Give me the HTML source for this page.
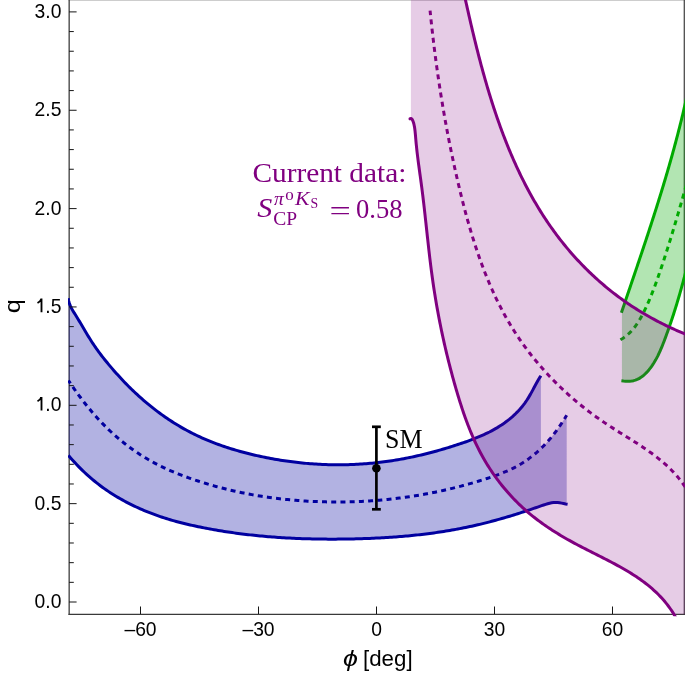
<!DOCTYPE html>
<html><head><meta charset="utf-8">
<style>
html,body{margin:0;padding:0;background:#fff;}
body{width:685px;height:673px;overflow:hidden;position:relative;}
svg{position:absolute;left:0;top:0;}
.t{font-family:"Liberation Sans",sans-serif;font-size:20px;fill:#000;}
.s{font-family:"Liberation Serif",serif;fill:#800080;}
</style></head><body>
<svg width="685" height="673" viewBox="0 0 685 673" style="will-change:transform">
<defs><clipPath id="pc"><rect x="68.4" y="0" width="616.6" height="614.3"/></clipPath><clipPath id="lc"><rect x="68" y="0" width="617" height="616.3"/></clipPath></defs>
<!-- frame -->
<g fill="none" stroke="#3a3a3a">
 <line x1="69.16" y1="-1" x2="69.16" y2="614.9" stroke-width="1.28"/>
 <line x1="68.5" y1="614.3" x2="686" y2="614.3" stroke-width="1.2"/>
 <line x1="684.27" y1="-1" x2="684.27" y2="614.9" stroke-width="1.18"/>
 <line x1="68.5" y1="-0.25" x2="686" y2="-0.25" stroke-width="1.2"/>
</g>

<g>
 <path clip-path="url(#pc)" d="M68.18,298.31 L68.51,300.31 L68.99,302.24 L69.62,304.11 L70.37,305.93 L71.23,307.71 L72.16,309.45 L73.16,311.16 L74.20,312.86 L75.26,314.55 L76.32,316.25 L77.37,317.95 L78.41,319.66 L79.44,321.38 L80.47,323.10 L81.49,324.83 L82.51,326.55 L83.53,328.28 L84.55,330.01 L85.57,331.73 L86.60,333.45 L87.63,335.17 L88.67,336.88 L89.73,338.58 L90.79,340.27 L91.87,341.95 L92.97,343.62 L94.08,345.28 L95.21,346.93 L96.36,348.56 L97.52,350.18 L98.70,351.80 L99.89,353.40 L101.09,354.99 L102.31,356.57 L103.54,358.14 L104.78,359.70 L106.04,361.26 L107.30,362.80 L108.57,364.34 L109.85,365.86 L111.15,367.38 L112.44,368.90 L113.75,370.40 L115.07,371.90 L116.39,373.39 L117.72,374.87 L119.06,376.35 L120.41,377.82 L121.77,379.27 L123.14,380.72 L124.51,382.17 L125.90,383.60 L127.29,385.02 L128.70,386.44 L130.11,387.84 L131.53,389.24 L132.97,390.62 L134.41,392.00 L135.86,393.37 L137.33,394.72 L138.80,396.07 L140.29,397.40 L141.78,398.73 L143.28,400.04 L144.80,401.35 L146.32,402.64 L147.86,403.92 L149.40,405.19 L150.95,406.44 L152.52,407.69 L154.09,408.92 L155.67,410.14 L157.27,411.35 L158.87,412.54 L160.48,413.73 L162.10,414.90 L163.73,416.05 L165.37,417.19 L167.02,418.32 L168.67,419.44 L170.34,420.54 L172.01,421.63 L173.70,422.70 L175.39,423.76 L177.09,424.80 L178.80,425.83 L180.52,426.84 L182.25,427.84 L183.99,428.82 L185.73,429.79 L187.49,430.74 L189.25,431.68 L191.02,432.60 L192.80,433.50 L194.58,434.39 L196.38,435.26 L198.18,436.11 L199.99,436.95 L201.81,437.77 L203.64,438.58 L205.47,439.37 L207.31,440.15 L209.15,440.91 L211.00,441.66 L212.86,442.39 L214.73,443.11 L216.60,443.81 L218.47,444.50 L220.35,445.18 L222.24,445.84 L224.13,446.49 L226.03,447.12 L227.93,447.75 L229.84,448.36 L231.75,448.95 L233.67,449.54 L235.59,450.11 L237.51,450.67 L239.44,451.21 L241.37,451.75 L243.31,452.27 L245.24,452.78 L247.18,453.28 L249.13,453.77 L251.07,454.25 L253.02,454.71 L254.97,455.17 L256.93,455.61 L258.88,456.05 L260.84,456.47 L262.80,456.89 L264.76,457.29 L266.72,457.69 L268.68,458.07 L270.65,458.44 L272.61,458.81 L274.58,459.16 L276.55,459.50 L278.52,459.83 L280.49,460.15 L282.46,460.47 L284.44,460.77 L286.41,461.06 L288.39,461.34 L290.37,461.60 L292.35,461.86 L294.33,462.11 L296.31,462.35 L298.29,462.57 L300.27,462.79 L302.26,462.99 L304.24,463.19 L306.23,463.37 L308.22,463.54 L310.21,463.70 L312.20,463.85 L314.19,463.99 L316.18,464.12 L318.17,464.24 L320.16,464.34 L322.16,464.44 L324.15,464.52 L326.15,464.60 L328.14,464.66 L330.14,464.71 L332.14,464.75 L334.14,464.77 L336.13,464.79 L338.13,464.80 L340.13,464.79 L342.13,464.77 L344.13,464.74 L346.13,464.70 L348.13,464.65 L350.14,464.59 L352.14,464.51 L354.14,464.43 L356.14,464.33 L358.14,464.22 L360.14,464.10 L362.14,463.97 L364.13,463.83 L366.13,463.67 L368.13,463.51 L370.12,463.33 L372.12,463.15 L374.11,462.95 L376.10,462.74 L378.09,462.52 L380.08,462.29 L382.06,462.04 L384.05,461.79 L386.03,461.52 L388.01,461.25 L389.99,460.96 L391.96,460.66 L393.94,460.36 L395.91,460.04 L397.87,459.71 L399.84,459.36 L401.80,459.01 L403.77,458.65 L405.72,458.28 L407.68,457.89 L409.63,457.50 L411.59,457.10 L413.54,456.68 L415.48,456.26 L417.43,455.82 L419.37,455.38 L421.31,454.93 L423.25,454.46 L425.19,453.99 L427.12,453.51 L429.05,453.01 L430.98,452.51 L432.91,452.00 L434.84,451.48 L436.76,450.95 L438.69,450.41 L440.61,449.87 L442.53,449.31 L444.44,448.74 L446.36,448.17 L448.27,447.59 L450.18,447.00 L452.09,446.40 L454.00,445.79 L455.90,445.17 L457.81,444.55 L459.71,443.91 L461.61,443.27 L463.51,442.62 L465.41,441.96 L467.30,441.29 L469.18,440.61 L471.06,439.91 L472.94,439.20 L474.81,438.47 L476.67,437.73 L478.52,436.97 L480.36,436.19 L482.19,435.39 L484.02,434.57 L485.82,433.73 L487.62,432.86 L489.41,431.98 L491.18,431.06 L492.93,430.12 L494.67,429.16 L496.40,428.17 L498.11,427.14 L499.79,426.09 L501.47,425.01 L503.12,423.89 L504.75,422.75 L506.36,421.57 L507.95,420.35 L509.51,419.11 L511.04,417.83 L512.55,416.52 L514.03,415.18 L515.48,413.81 L516.90,412.40 L518.29,410.97 L519.64,409.50 L520.95,407.99 L522.23,406.46 L523.47,404.90 L524.67,403.30 L525.83,401.67 L526.95,400.01 L528.02,398.33 L529.07,396.61 L530.08,394.88 L531.07,393.13 L532.04,391.37 L533.00,389.60 L533.95,387.83 L534.90,386.06 L535.85,384.29 L536.82,382.54 L537.80,380.80 L538.80,379.07 L539.84,377.37 L540.90,375.70 L540.90,375.70 L540.90,448.54 L540.79,448.64 L538.80,450.51 L536.81,452.29 L534.82,453.99 L532.82,455.62 L530.83,457.17 L528.84,458.66 L526.84,460.07 L524.85,461.42 L522.86,462.71 L520.87,463.94 L518.87,465.11 L516.88,466.23 L514.89,467.29 L512.89,468.31 L510.90,469.29 L508.91,470.22 L506.92,471.11 L504.92,471.96 L502.93,472.79 L500.94,473.58 L498.94,474.34 L496.95,475.07 L494.96,475.79 L492.97,476.48 L490.97,477.16 L488.98,477.82 L486.99,478.47 L485.00,479.12 L483.00,479.75 L481.01,480.37 L479.02,480.99 L477.02,481.59 L475.03,482.19 L473.04,482.77 L471.05,483.35 L469.05,483.91 L467.06,484.47 L465.07,485.02 L463.07,485.56 L461.08,486.09 L459.09,486.61 L457.10,487.12 L455.10,487.63 L453.11,488.12 L451.12,488.60 L449.12,489.08 L447.13,489.55 L445.14,490.00 L443.15,490.45 L441.15,490.89 L439.16,491.32 L437.17,491.74 L435.18,492.16 L433.18,492.56 L431.19,492.96 L429.20,493.34 L427.20,493.72 L425.21,494.09 L423.22,494.45 L421.23,494.80 L419.23,495.14 L417.24,495.48 L415.25,495.80 L413.25,496.12 L411.26,496.42 L409.27,496.72 L407.28,497.01 L405.28,497.30 L403.29,497.57 L401.30,497.84 L399.30,498.09 L397.31,498.34 L395.32,498.58 L393.33,498.81 L391.33,499.03 L389.34,499.25 L387.35,499.46 L385.36,499.65 L383.36,499.84 L381.37,500.02 L379.38,500.20 L377.38,500.36 L375.39,500.52 L373.40,500.67 L371.41,500.81 L369.41,500.94 L367.42,501.07 L365.43,501.18 L363.43,501.29 L361.44,501.39 L359.45,501.48 L357.46,501.57 L355.46,501.64 L353.47,501.71 L351.48,501.77 L349.48,501.82 L347.49,501.87 L345.50,501.90 L343.51,501.93 L341.51,501.95 L339.52,501.97 L337.53,501.97 L335.54,501.97 L333.54,501.96 L331.55,501.94 L329.56,501.92 L327.56,501.89 L325.57,501.85 L323.58,501.80 L321.59,501.74 L319.59,501.68 L317.60,501.61 L315.61,501.53 L313.61,501.44 L311.62,501.35 L309.63,501.25 L307.64,501.14 L305.64,501.02 L303.65,500.90 L301.66,500.76 L299.66,500.62 L297.67,500.47 L295.68,500.32 L293.69,500.15 L291.69,499.98 L289.70,499.79 L287.71,499.60 L285.72,499.40 L283.72,499.19 L281.73,498.97 L279.74,498.75 L277.74,498.51 L275.75,498.27 L273.76,498.02 L271.77,497.75 L269.77,497.48 L267.78,497.20 L265.79,496.91 L263.79,496.61 L261.80,496.30 L259.81,495.98 L257.82,495.66 L255.82,495.32 L253.83,494.97 L251.84,494.61 L249.84,494.25 L247.85,493.87 L245.86,493.48 L243.87,493.09 L241.87,492.68 L239.88,492.26 L237.89,491.83 L235.90,491.40 L233.90,490.95 L231.91,490.49 L229.92,490.02 L227.92,489.54 L225.93,489.05 L223.94,488.55 L221.95,488.04 L219.95,487.51 L217.96,486.98 L215.97,486.43 L213.97,485.88 L211.98,485.31 L209.99,484.73 L208.00,484.14 L206.00,483.54 L204.01,482.93 L202.02,482.30 L200.02,481.67 L198.03,481.02 L196.04,480.36 L194.05,479.69 L192.05,479.01 L190.06,478.31 L188.07,477.60 L186.08,476.88 L184.08,476.15 L182.09,475.40 L180.10,474.63 L178.10,473.85 L176.11,473.04 L174.12,472.22 L172.13,471.39 L170.13,470.53 L168.14,469.65 L166.15,468.74 L164.15,467.82 L162.16,466.87 L160.17,465.90 L158.18,464.90 L156.18,463.88 L154.19,462.83 L152.20,461.75 L150.20,460.64 L148.21,459.50 L146.22,458.34 L144.23,457.14 L142.23,455.91 L140.24,454.65 L138.25,453.36 L136.26,452.03 L134.26,450.66 L132.27,449.26 L130.28,447.82 L128.28,446.35 L126.29,444.84 L124.30,443.28 L122.31,441.69 L120.31,440.06 L118.32,438.38 L116.33,436.66 L114.33,434.90 L112.34,433.10 L110.35,431.25 L108.36,429.35 L106.36,427.41 L104.37,425.42 L102.38,423.38 L100.38,421.29 L98.39,419.15 L96.40,416.96 L94.41,414.72 L92.41,412.43 L90.42,410.08 L88.43,407.68 L86.44,405.22 L84.44,402.71 L82.45,400.14 L80.46,397.51 L78.46,394.83 L76.47,392.08 L74.48,389.28 L72.49,386.42 L70.49,383.49 L68.50,380.50 Z" fill="rgb(0,0,160)" fill-opacity="0.3"/>
 <path clip-path="url(#pc)" d="M68.50,380.50 L70.49,383.49 L72.49,386.42 L74.48,389.28 L76.47,392.08 L78.46,394.83 L80.46,397.51 L82.45,400.14 L84.44,402.71 L86.44,405.22 L88.43,407.68 L90.42,410.08 L92.41,412.43 L94.41,414.72 L96.40,416.96 L98.39,419.15 L100.38,421.29 L102.38,423.38 L104.37,425.42 L106.36,427.41 L108.36,429.35 L110.35,431.25 L112.34,433.10 L114.33,434.90 L116.33,436.66 L118.32,438.38 L120.31,440.06 L122.31,441.69 L124.30,443.28 L126.29,444.84 L128.28,446.35 L130.28,447.82 L132.27,449.26 L134.26,450.66 L136.26,452.03 L138.25,453.36 L140.24,454.65 L142.23,455.91 L144.23,457.14 L146.22,458.34 L148.21,459.50 L150.20,460.64 L152.20,461.75 L154.19,462.83 L156.18,463.88 L158.18,464.90 L160.17,465.90 L162.16,466.87 L164.15,467.82 L166.15,468.74 L168.14,469.65 L170.13,470.53 L172.13,471.39 L174.12,472.22 L176.11,473.04 L178.10,473.85 L180.10,474.63 L182.09,475.40 L184.08,476.15 L186.08,476.88 L188.07,477.60 L190.06,478.31 L192.05,479.01 L194.05,479.69 L196.04,480.36 L198.03,481.02 L200.02,481.67 L202.02,482.30 L204.01,482.93 L206.00,483.54 L208.00,484.14 L209.99,484.73 L211.98,485.31 L213.97,485.88 L215.97,486.43 L217.96,486.98 L219.95,487.51 L221.95,488.04 L223.94,488.55 L225.93,489.05 L227.92,489.54 L229.92,490.02 L231.91,490.49 L233.90,490.95 L235.90,491.40 L237.89,491.83 L239.88,492.26 L241.87,492.68 L243.87,493.09 L245.86,493.48 L247.85,493.87 L249.84,494.25 L251.84,494.61 L253.83,494.97 L255.82,495.32 L257.82,495.66 L259.81,495.98 L261.80,496.30 L263.79,496.61 L265.79,496.91 L267.78,497.20 L269.77,497.48 L271.77,497.75 L273.76,498.02 L275.75,498.27 L277.74,498.51 L279.74,498.75 L281.73,498.97 L283.72,499.19 L285.72,499.40 L287.71,499.60 L289.70,499.79 L291.69,499.98 L293.69,500.15 L295.68,500.32 L297.67,500.47 L299.66,500.62 L301.66,500.76 L303.65,500.90 L305.64,501.02 L307.64,501.14 L309.63,501.25 L311.62,501.35 L313.61,501.44 L315.61,501.53 L317.60,501.61 L319.59,501.68 L321.59,501.74 L323.58,501.80 L325.57,501.85 L327.56,501.89 L329.56,501.92 L331.55,501.94 L333.54,501.96 L335.54,501.97 L337.53,501.97 L339.52,501.97 L341.51,501.95 L343.51,501.93 L345.50,501.90 L347.49,501.87 L349.48,501.82 L351.48,501.77 L353.47,501.71 L355.46,501.64 L357.46,501.57 L359.45,501.48 L361.44,501.39 L363.43,501.29 L365.43,501.18 L367.42,501.07 L369.41,500.94 L371.41,500.81 L373.40,500.67 L375.39,500.52 L377.38,500.36 L379.38,500.20 L381.37,500.02 L383.36,499.84 L385.36,499.65 L387.35,499.46 L389.34,499.25 L391.33,499.03 L393.33,498.81 L395.32,498.58 L397.31,498.34 L399.30,498.09 L401.30,497.84 L403.29,497.57 L405.28,497.30 L407.28,497.01 L409.27,496.72 L411.26,496.42 L413.25,496.12 L415.25,495.80 L417.24,495.48 L419.23,495.14 L421.23,494.80 L423.22,494.45 L425.21,494.09 L427.20,493.72 L429.20,493.34 L431.19,492.96 L433.18,492.56 L435.18,492.16 L437.17,491.74 L439.16,491.32 L441.15,490.89 L443.15,490.45 L445.14,490.00 L447.13,489.55 L449.12,489.08 L451.12,488.60 L453.11,488.12 L455.10,487.63 L457.10,487.12 L459.09,486.61 L461.08,486.09 L463.07,485.56 L465.07,485.02 L467.06,484.47 L469.05,483.91 L471.05,483.35 L473.04,482.77 L475.03,482.19 L477.02,481.59 L479.02,480.99 L481.01,480.37 L483.00,479.75 L485.00,479.12 L486.99,478.47 L488.98,477.82 L490.97,477.16 L492.97,476.48 L494.96,475.79 L496.95,475.07 L498.94,474.34 L500.94,473.58 L502.93,472.79 L504.92,471.96 L506.92,471.11 L508.91,470.22 L510.90,469.29 L512.89,468.31 L514.89,467.29 L516.88,466.23 L518.87,465.11 L520.87,463.94 L522.86,462.71 L524.85,461.42 L526.84,460.07 L528.84,458.66 L530.83,457.17 L532.82,455.62 L534.82,453.99 L536.81,452.29 L538.80,450.51 L540.79,448.64 L542.79,446.69 L544.78,444.65 L546.77,442.51 L548.76,440.28 L550.76,437.94 L552.75,435.50 L554.74,432.96 L556.74,430.29 L558.73,427.52 L560.72,424.62 L562.71,421.60 L564.71,418.45 L566.70,415.17 L566.70,415.17 L566.70,504.17 L565.60,503.99 L563.61,503.57 L561.61,503.14 L559.61,502.75 L557.62,502.49 L555.62,502.42 L553.62,502.53 L551.63,502.81 L549.63,503.21 L547.63,503.73 L545.64,504.34 L543.64,505.00 L541.64,505.69 L539.64,506.38 L537.65,507.08 L535.65,507.76 L533.65,508.45 L531.66,509.12 L529.66,509.80 L527.66,510.46 L525.67,511.13 L523.67,511.78 L521.67,512.43 L519.68,513.07 L517.68,513.71 L515.68,514.34 L513.69,514.96 L511.69,515.58 L509.69,516.19 L507.70,516.79 L505.70,517.39 L503.70,517.97 L501.71,518.55 L499.71,519.12 L497.71,519.68 L495.72,520.24 L493.72,520.78 L491.72,521.32 L489.72,521.84 L487.73,522.36 L485.73,522.87 L483.73,523.37 L481.74,523.86 L479.74,524.34 L477.74,524.81 L475.75,525.27 L473.75,525.72 L471.75,526.16 L469.76,526.59 L467.76,527.02 L465.76,527.43 L463.77,527.84 L461.77,528.23 L459.77,528.62 L457.78,529.00 L455.78,529.37 L453.78,529.73 L451.79,530.08 L449.79,530.43 L447.79,530.77 L445.80,531.09 L443.80,531.41 L441.80,531.73 L439.80,532.03 L437.81,532.33 L435.81,532.62 L433.81,532.90 L431.82,533.17 L429.82,533.44 L427.82,533.70 L425.83,533.95 L423.83,534.19 L421.83,534.43 L419.84,534.66 L417.84,534.88 L415.84,535.10 L413.85,535.31 L411.85,535.51 L409.85,535.71 L407.86,535.90 L405.86,536.08 L403.86,536.26 L401.87,536.43 L399.87,536.59 L397.87,536.75 L395.88,536.90 L393.88,537.05 L391.88,537.19 L389.88,537.33 L387.89,537.46 L385.89,537.58 L383.89,537.70 L381.90,537.81 L379.90,537.92 L377.90,538.02 L375.91,538.12 L373.91,538.21 L371.91,538.30 L369.92,538.38 L367.92,538.46 L365.92,538.53 L363.93,538.60 L361.93,538.67 L359.93,538.73 L357.94,538.78 L355.94,538.84 L353.94,538.88 L351.95,538.93 L349.95,538.97 L347.95,539.00 L345.96,539.03 L343.96,539.06 L341.96,539.09 L339.96,539.10 L337.97,539.12 L335.97,539.13 L333.97,539.14 L331.98,539.14 L329.98,539.14 L327.98,539.13 L325.99,539.12 L323.99,539.11 L321.99,539.09 L320.00,539.07 L318.00,539.04 L316.00,539.00 L314.01,538.96 L312.01,538.92 L310.01,538.87 L308.02,538.82 L306.02,538.76 L304.02,538.70 L302.03,538.63 L300.03,538.56 L298.03,538.48 L296.04,538.40 L294.04,538.31 L292.04,538.21 L290.04,538.11 L288.05,538.01 L286.05,537.90 L284.05,537.78 L282.06,537.66 L280.06,537.53 L278.06,537.39 L276.07,537.25 L274.07,537.11 L272.07,536.96 L270.08,536.80 L268.08,536.64 L266.08,536.47 L264.09,536.29 L262.09,536.11 L260.09,535.92 L258.10,535.73 L256.10,535.53 L254.10,535.32 L252.11,535.11 L250.11,534.88 L248.11,534.66 L246.12,534.42 L244.12,534.18 L242.12,533.94 L240.12,533.68 L238.13,533.42 L236.13,533.15 L234.13,532.88 L232.14,532.60 L230.14,532.31 L228.14,532.01 L226.15,531.71 L224.15,531.40 L222.15,531.08 L220.16,530.76 L218.16,530.43 L216.16,530.09 L214.17,529.74 L212.17,529.38 L210.17,529.02 L208.18,528.65 L206.18,528.27 L204.18,527.89 L202.19,527.49 L200.19,527.09 L198.19,526.68 L196.20,526.26 L194.20,525.83 L192.20,525.39 L190.20,524.94 L188.21,524.48 L186.21,524.00 L184.21,523.52 L182.22,523.02 L180.22,522.51 L178.22,521.98 L176.23,521.44 L174.23,520.89 L172.23,520.32 L170.24,519.74 L168.24,519.14 L166.24,518.52 L164.25,517.89 L162.25,517.24 L160.25,516.57 L158.26,515.89 L156.26,515.18 L154.26,514.46 L152.27,513.72 L150.27,512.95 L148.27,512.17 L146.28,511.36 L144.28,510.54 L142.28,509.69 L140.28,508.82 L138.29,507.93 L136.29,507.01 L134.29,506.07 L132.30,505.10 L130.30,504.11 L128.30,503.10 L126.31,502.06 L124.31,500.99 L122.31,499.90 L120.32,498.78 L118.32,497.62 L116.32,496.44 L114.33,495.23 L112.33,493.98 L110.33,492.69 L108.34,491.37 L106.34,490.02 L104.34,488.62 L102.35,487.18 L100.35,485.71 L98.35,484.19 L96.36,482.62 L94.36,481.01 L92.36,479.35 L90.36,477.65 L88.37,475.89 L86.37,474.09 L84.37,472.23 L82.38,470.32 L80.38,468.36 L78.38,466.34 L76.39,464.26 L74.39,462.12 L72.39,459.93 L70.40,457.67 L68.40,455.35 Z" fill="rgb(0,0,160)" fill-opacity="0.3"/>
 <g clip-path="url(#lc)" fill="none" stroke="rgb(0,0,160)" stroke-width="3.0" stroke-linejoin="round">
  <path d="M68.18,298.31 L68.51,300.31 L68.99,302.24 L69.62,304.11 L70.37,305.93 L71.23,307.71 L72.16,309.45 L73.16,311.16 L74.20,312.86 L75.26,314.55 L76.32,316.25 L77.37,317.95 L78.41,319.66 L79.44,321.38 L80.47,323.10 L81.49,324.83 L82.51,326.55 L83.53,328.28 L84.55,330.01 L85.57,331.73 L86.60,333.45 L87.63,335.17 L88.67,336.88 L89.73,338.58 L90.79,340.27 L91.87,341.95 L92.97,343.62 L94.08,345.28 L95.21,346.93 L96.36,348.56 L97.52,350.18 L98.70,351.80 L99.89,353.40 L101.09,354.99 L102.31,356.57 L103.54,358.14 L104.78,359.70 L106.04,361.26 L107.30,362.80 L108.57,364.34 L109.85,365.86 L111.15,367.38 L112.44,368.90 L113.75,370.40 L115.07,371.90 L116.39,373.39 L117.72,374.87 L119.06,376.35 L120.41,377.82 L121.77,379.27 L123.14,380.72 L124.51,382.17 L125.90,383.60 L127.29,385.02 L128.70,386.44 L130.11,387.84 L131.53,389.24 L132.97,390.62 L134.41,392.00 L135.86,393.37 L137.33,394.72 L138.80,396.07 L140.29,397.40 L141.78,398.73 L143.28,400.04 L144.80,401.35 L146.32,402.64 L147.86,403.92 L149.40,405.19 L150.95,406.44 L152.52,407.69 L154.09,408.92 L155.67,410.14 L157.27,411.35 L158.87,412.54 L160.48,413.73 L162.10,414.90 L163.73,416.05 L165.37,417.19 L167.02,418.32 L168.67,419.44 L170.34,420.54 L172.01,421.63 L173.70,422.70 L175.39,423.76 L177.09,424.80 L178.80,425.83 L180.52,426.84 L182.25,427.84 L183.99,428.82 L185.73,429.79 L187.49,430.74 L189.25,431.68 L191.02,432.60 L192.80,433.50 L194.58,434.39 L196.38,435.26 L198.18,436.11 L199.99,436.95 L201.81,437.77 L203.64,438.58 L205.47,439.37 L207.31,440.15 L209.15,440.91 L211.00,441.66 L212.86,442.39 L214.73,443.11 L216.60,443.81 L218.47,444.50 L220.35,445.18 L222.24,445.84 L224.13,446.49 L226.03,447.12 L227.93,447.75 L229.84,448.36 L231.75,448.95 L233.67,449.54 L235.59,450.11 L237.51,450.67 L239.44,451.21 L241.37,451.75 L243.31,452.27 L245.24,452.78 L247.18,453.28 L249.13,453.77 L251.07,454.25 L253.02,454.71 L254.97,455.17 L256.93,455.61 L258.88,456.05 L260.84,456.47 L262.80,456.89 L264.76,457.29 L266.72,457.69 L268.68,458.07 L270.65,458.44 L272.61,458.81 L274.58,459.16 L276.55,459.50 L278.52,459.83 L280.49,460.15 L282.46,460.47 L284.44,460.77 L286.41,461.06 L288.39,461.34 L290.37,461.60 L292.35,461.86 L294.33,462.11 L296.31,462.35 L298.29,462.57 L300.27,462.79 L302.26,462.99 L304.24,463.19 L306.23,463.37 L308.22,463.54 L310.21,463.70 L312.20,463.85 L314.19,463.99 L316.18,464.12 L318.17,464.24 L320.16,464.34 L322.16,464.44 L324.15,464.52 L326.15,464.60 L328.14,464.66 L330.14,464.71 L332.14,464.75 L334.14,464.77 L336.13,464.79 L338.13,464.80 L340.13,464.79 L342.13,464.77 L344.13,464.74 L346.13,464.70 L348.13,464.65 L350.14,464.59 L352.14,464.51 L354.14,464.43 L356.14,464.33 L358.14,464.22 L360.14,464.10 L362.14,463.97 L364.13,463.83 L366.13,463.67 L368.13,463.51 L370.12,463.33 L372.12,463.15 L374.11,462.95 L376.10,462.74 L378.09,462.52 L380.08,462.29 L382.06,462.04 L384.05,461.79 L386.03,461.52 L388.01,461.25 L389.99,460.96 L391.96,460.66 L393.94,460.36 L395.91,460.04 L397.87,459.71 L399.84,459.36 L401.80,459.01 L403.77,458.65 L405.72,458.28 L407.68,457.89 L409.63,457.50 L411.59,457.10 L413.54,456.68 L415.48,456.26 L417.43,455.82 L419.37,455.38 L421.31,454.93 L423.25,454.46 L425.19,453.99 L427.12,453.51 L429.05,453.01 L430.98,452.51 L432.91,452.00 L434.84,451.48 L436.76,450.95 L438.69,450.41 L440.61,449.87 L442.53,449.31 L444.44,448.74 L446.36,448.17 L448.27,447.59 L450.18,447.00 L452.09,446.40 L454.00,445.79 L455.90,445.17 L457.81,444.55 L459.71,443.91 L461.61,443.27 L463.51,442.62 L465.41,441.96 L467.30,441.29 L469.18,440.61 L471.06,439.91 L472.94,439.20 L474.81,438.47 L476.67,437.73 L478.52,436.97 L480.36,436.19 L482.19,435.39 L484.02,434.57 L485.82,433.73 L487.62,432.86 L489.41,431.98 L491.18,431.06 L492.93,430.12 L494.67,429.16 L496.40,428.17 L498.11,427.14 L499.79,426.09 L501.47,425.01 L503.12,423.89 L504.75,422.75 L506.36,421.57 L507.95,420.35 L509.51,419.11 L511.04,417.83 L512.55,416.52 L514.03,415.18 L515.48,413.81 L516.90,412.40 L518.29,410.97 L519.64,409.50 L520.95,407.99 L522.23,406.46 L523.47,404.90 L524.67,403.30 L525.83,401.67 L526.95,400.01 L528.02,398.33 L529.07,396.61 L530.08,394.88 L531.07,393.13 L532.04,391.37 L533.00,389.60 L533.95,387.83 L534.90,386.06 L535.85,384.29 L536.82,382.54 L537.80,380.80 L538.80,379.07 L539.84,377.37 L540.90,375.70"/>
  <path d="M68.40,455.35 L70.40,457.67 L72.39,459.93 L74.39,462.12 L76.39,464.26 L78.38,466.34 L80.38,468.36 L82.38,470.32 L84.37,472.23 L86.37,474.09 L88.37,475.89 L90.36,477.65 L92.36,479.35 L94.36,481.01 L96.36,482.62 L98.35,484.19 L100.35,485.71 L102.35,487.18 L104.34,488.62 L106.34,490.02 L108.34,491.37 L110.33,492.69 L112.33,493.98 L114.33,495.23 L116.32,496.44 L118.32,497.62 L120.32,498.78 L122.31,499.90 L124.31,500.99 L126.31,502.06 L128.30,503.10 L130.30,504.11 L132.30,505.10 L134.29,506.07 L136.29,507.01 L138.29,507.93 L140.28,508.82 L142.28,509.69 L144.28,510.54 L146.28,511.36 L148.27,512.17 L150.27,512.95 L152.27,513.72 L154.26,514.46 L156.26,515.18 L158.26,515.89 L160.25,516.57 L162.25,517.24 L164.25,517.89 L166.24,518.52 L168.24,519.14 L170.24,519.74 L172.23,520.32 L174.23,520.89 L176.23,521.44 L178.22,521.98 L180.22,522.51 L182.22,523.02 L184.21,523.52 L186.21,524.00 L188.21,524.48 L190.20,524.94 L192.20,525.39 L194.20,525.83 L196.20,526.26 L198.19,526.68 L200.19,527.09 L202.19,527.49 L204.18,527.89 L206.18,528.27 L208.18,528.65 L210.17,529.02 L212.17,529.38 L214.17,529.74 L216.16,530.09 L218.16,530.43 L220.16,530.76 L222.15,531.08 L224.15,531.40 L226.15,531.71 L228.14,532.01 L230.14,532.31 L232.14,532.60 L234.13,532.88 L236.13,533.15 L238.13,533.42 L240.12,533.68 L242.12,533.94 L244.12,534.18 L246.12,534.42 L248.11,534.66 L250.11,534.88 L252.11,535.11 L254.10,535.32 L256.10,535.53 L258.10,535.73 L260.09,535.92 L262.09,536.11 L264.09,536.29 L266.08,536.47 L268.08,536.64 L270.08,536.80 L272.07,536.96 L274.07,537.11 L276.07,537.25 L278.06,537.39 L280.06,537.53 L282.06,537.66 L284.05,537.78 L286.05,537.90 L288.05,538.01 L290.04,538.11 L292.04,538.21 L294.04,538.31 L296.04,538.40 L298.03,538.48 L300.03,538.56 L302.03,538.63 L304.02,538.70 L306.02,538.76 L308.02,538.82 L310.01,538.87 L312.01,538.92 L314.01,538.96 L316.00,539.00 L318.00,539.04 L320.00,539.07 L321.99,539.09 L323.99,539.11 L325.99,539.12 L327.98,539.13 L329.98,539.14 L331.98,539.14 L333.97,539.14 L335.97,539.13 L337.97,539.12 L339.96,539.10 L341.96,539.09 L343.96,539.06 L345.96,539.03 L347.95,539.00 L349.95,538.97 L351.95,538.93 L353.94,538.88 L355.94,538.84 L357.94,538.78 L359.93,538.73 L361.93,538.67 L363.93,538.60 L365.92,538.53 L367.92,538.46 L369.92,538.38 L371.91,538.30 L373.91,538.21 L375.91,538.12 L377.90,538.02 L379.90,537.92 L381.90,537.81 L383.89,537.70 L385.89,537.58 L387.89,537.46 L389.88,537.33 L391.88,537.19 L393.88,537.05 L395.88,536.90 L397.87,536.75 L399.87,536.59 L401.87,536.43 L403.86,536.26 L405.86,536.08 L407.86,535.90 L409.85,535.71 L411.85,535.51 L413.85,535.31 L415.84,535.10 L417.84,534.88 L419.84,534.66 L421.83,534.43 L423.83,534.19 L425.83,533.95 L427.82,533.70 L429.82,533.44 L431.82,533.17 L433.81,532.90 L435.81,532.62 L437.81,532.33 L439.80,532.03 L441.80,531.73 L443.80,531.41 L445.80,531.09 L447.79,530.77 L449.79,530.43 L451.79,530.08 L453.78,529.73 L455.78,529.37 L457.78,529.00 L459.77,528.62 L461.77,528.23 L463.77,527.84 L465.76,527.43 L467.76,527.02 L469.76,526.59 L471.75,526.16 L473.75,525.72 L475.75,525.27 L477.74,524.81 L479.74,524.34 L481.74,523.86 L483.73,523.37 L485.73,522.87 L487.73,522.36 L489.72,521.84 L491.72,521.32 L493.72,520.78 L495.72,520.24 L497.71,519.68 L499.71,519.12 L501.71,518.55 L503.70,517.97 L505.70,517.39 L507.70,516.79 L509.69,516.19 L511.69,515.58 L513.69,514.96 L515.68,514.34 L517.68,513.71 L519.68,513.07 L521.67,512.43 L523.67,511.78 L525.67,511.13 L527.66,510.46 L529.66,509.80 L531.66,509.12 L533.65,508.45 L535.65,507.76 L537.65,507.08 L539.64,506.38 L541.64,505.69 L543.64,505.00 L545.64,504.34 L547.63,503.73 L549.63,503.21 L551.63,502.81 L553.62,502.53 L555.62,502.42 L557.62,502.49 L559.61,502.75 L561.61,503.14 L563.61,503.57 L565.60,503.99 L567.60,504.32"/>
  <path d="M68.50,380.50 L70.49,383.49 L72.49,386.42 L74.48,389.28 L76.47,392.08 L78.46,394.83 L80.46,397.51 L82.45,400.14 L84.44,402.71 L86.44,405.22 L88.43,407.68 L90.42,410.08 L92.41,412.43 L94.41,414.72 L96.40,416.96 L98.39,419.15 L100.38,421.29 L102.38,423.38 L104.37,425.42 L106.36,427.41 L108.36,429.35 L110.35,431.25 L112.34,433.10 L114.33,434.90 L116.33,436.66 L118.32,438.38 L120.31,440.06 L122.31,441.69 L124.30,443.28 L126.29,444.84 L128.28,446.35 L130.28,447.82 L132.27,449.26 L134.26,450.66 L136.26,452.03 L138.25,453.36 L140.24,454.65 L142.23,455.91 L144.23,457.14 L146.22,458.34 L148.21,459.50 L150.20,460.64 L152.20,461.75 L154.19,462.83 L156.18,463.88 L158.18,464.90 L160.17,465.90 L162.16,466.87 L164.15,467.82 L166.15,468.74 L168.14,469.65 L170.13,470.53 L172.13,471.39 L174.12,472.22 L176.11,473.04 L178.10,473.85 L180.10,474.63 L182.09,475.40 L184.08,476.15 L186.08,476.88 L188.07,477.60 L190.06,478.31 L192.05,479.01 L194.05,479.69 L196.04,480.36 L198.03,481.02 L200.02,481.67 L202.02,482.30 L204.01,482.93 L206.00,483.54 L208.00,484.14 L209.99,484.73 L211.98,485.31 L213.97,485.88 L215.97,486.43 L217.96,486.98 L219.95,487.51 L221.95,488.04 L223.94,488.55 L225.93,489.05 L227.92,489.54 L229.92,490.02 L231.91,490.49 L233.90,490.95 L235.90,491.40 L237.89,491.83 L239.88,492.26 L241.87,492.68 L243.87,493.09 L245.86,493.48 L247.85,493.87 L249.84,494.25 L251.84,494.61 L253.83,494.97 L255.82,495.32 L257.82,495.66 L259.81,495.98 L261.80,496.30 L263.79,496.61 L265.79,496.91 L267.78,497.20 L269.77,497.48 L271.77,497.75 L273.76,498.02 L275.75,498.27 L277.74,498.51 L279.74,498.75 L281.73,498.97 L283.72,499.19 L285.72,499.40 L287.71,499.60 L289.70,499.79 L291.69,499.98 L293.69,500.15 L295.68,500.32 L297.67,500.47 L299.66,500.62 L301.66,500.76 L303.65,500.90 L305.64,501.02 L307.64,501.14 L309.63,501.25 L311.62,501.35 L313.61,501.44 L315.61,501.53 L317.60,501.61 L319.59,501.68 L321.59,501.74 L323.58,501.80 L325.57,501.85 L327.56,501.89 L329.56,501.92 L331.55,501.94 L333.54,501.96 L335.54,501.97 L337.53,501.97 L339.52,501.97 L341.51,501.95 L343.51,501.93 L345.50,501.90 L347.49,501.87 L349.48,501.82 L351.48,501.77 L353.47,501.71 L355.46,501.64 L357.46,501.57 L359.45,501.48 L361.44,501.39 L363.43,501.29 L365.43,501.18 L367.42,501.07 L369.41,500.94 L371.41,500.81 L373.40,500.67 L375.39,500.52 L377.38,500.36 L379.38,500.20 L381.37,500.02 L383.36,499.84 L385.36,499.65 L387.35,499.46 L389.34,499.25 L391.33,499.03 L393.33,498.81 L395.32,498.58 L397.31,498.34 L399.30,498.09 L401.30,497.84 L403.29,497.57 L405.28,497.30 L407.28,497.01 L409.27,496.72 L411.26,496.42 L413.25,496.12 L415.25,495.80 L417.24,495.48 L419.23,495.14 L421.23,494.80 L423.22,494.45 L425.21,494.09 L427.20,493.72 L429.20,493.34 L431.19,492.96 L433.18,492.56 L435.18,492.16 L437.17,491.74 L439.16,491.32 L441.15,490.89 L443.15,490.45 L445.14,490.00 L447.13,489.55 L449.12,489.08 L451.12,488.60 L453.11,488.12 L455.10,487.63 L457.10,487.12 L459.09,486.61 L461.08,486.09 L463.07,485.56 L465.07,485.02 L467.06,484.47 L469.05,483.91 L471.05,483.35 L473.04,482.77 L475.03,482.19 L477.02,481.59 L479.02,480.99 L481.01,480.37 L483.00,479.75 L485.00,479.12 L486.99,478.47 L488.98,477.82 L490.97,477.16 L492.97,476.48 L494.96,475.79 L496.95,475.07 L498.94,474.34 L500.94,473.58 L502.93,472.79 L504.92,471.96 L506.92,471.11 L508.91,470.22 L510.90,469.29 L512.89,468.31 L514.89,467.29 L516.88,466.23 L518.87,465.11 L520.87,463.94 L522.86,462.71 L524.85,461.42 L526.84,460.07 L528.84,458.66 L530.83,457.17 L532.82,455.62 L534.82,453.99 L536.81,452.29 L538.80,450.51 L540.79,448.64 L542.79,446.69 L544.78,444.65 L546.77,442.51 L548.76,440.28 L550.76,437.94 L552.75,435.50 L554.74,432.96 L556.74,430.29 L558.73,427.52 L560.72,424.62 L562.71,421.60 L564.71,418.45 L566.70,415.17" stroke-dasharray="5 4.227" stroke-dashoffset="1.489"/>
 </g>
 <path clip-path="url(#pc)" d="M621.90,312.70 L621.40,312.70 L622.04,310.81 L622.68,308.92 L623.32,307.03 L623.96,305.15 L624.61,303.26 L625.25,301.37 L625.89,299.48 L626.53,297.59 L627.18,295.70 L627.82,293.81 L628.46,291.92 L629.10,290.03 L629.75,288.14 L630.39,286.26 L631.03,284.37 L631.67,282.48 L632.31,280.59 L632.96,278.70 L633.60,276.81 L634.24,274.92 L634.88,273.03 L635.52,271.14 L636.16,269.25 L636.80,267.36 L637.44,265.46 L638.07,263.57 L638.71,261.68 L639.35,259.79 L639.98,257.90 L640.62,256.01 L641.25,254.11 L641.89,252.22 L642.52,250.33 L643.15,248.43 L643.78,246.54 L644.41,244.65 L645.04,242.75 L645.67,240.86 L646.30,238.96 L646.92,237.07 L647.55,235.17 L648.17,233.28 L648.79,231.38 L649.41,229.48 L650.03,227.58 L650.65,225.69 L651.27,223.79 L651.88,221.89 L652.49,219.99 L653.11,218.09 L653.72,216.19 L654.32,214.29 L654.93,212.39 L655.54,210.49 L656.14,208.58 L656.74,206.68 L657.34,204.78 L657.94,202.87 L658.54,200.97 L659.13,199.06 L659.72,197.16 L660.31,195.25 L660.90,193.34 L661.48,191.44 L662.07,189.53 L662.65,187.62 L663.23,185.71 L663.81,183.80 L664.38,181.89 L664.95,179.98 L665.52,178.06 L666.09,176.15 L666.65,174.24 L667.22,172.32 L667.78,170.41 L668.33,168.49 L668.89,166.57 L669.44,164.65 L669.99,162.74 L670.53,160.82 L671.08,158.90 L671.62,156.98 L672.16,155.05 L672.69,153.13 L673.22,151.21 L673.75,149.28 L674.28,147.36 L674.80,145.43 L675.32,143.50 L675.83,141.57 L676.35,139.65 L676.86,137.72 L677.36,135.78 L677.87,133.85 L678.37,131.92 L678.86,129.99 L679.36,128.05 L679.84,126.11 L680.33,124.18 L680.81,122.24 L681.29,120.30 L681.77,118.36 L682.24,116.42 L682.71,114.48 L683.17,112.53 L683.63,110.59 L684.08,108.64 L684.54,106.69 L684.98,104.75 L685.43,102.80 L685.87,100.85 L686.31,98.90 L686.74,96.94 L687.17,94.99 L700.00,94.99 L700.00,266.99 L686.99,266.99 L686.49,268.96 L685.98,270.92 L685.48,272.88 L684.97,274.83 L684.46,276.77 L683.94,278.71 L683.42,280.65 L682.90,282.58 L682.37,284.51 L681.84,286.43 L681.31,288.35 L680.77,290.26 L680.23,292.17 L679.68,294.08 L679.13,295.99 L678.57,297.89 L678.01,299.79 L677.44,301.69 L676.87,303.58 L676.29,305.47 L675.70,307.37 L675.11,309.26 L674.52,311.15 L673.92,313.04 L673.31,314.92 L672.69,316.81 L672.07,318.70 L671.44,320.59 L670.80,322.47 L670.16,324.36 L669.51,326.25 L668.85,328.14 L668.18,330.03 L667.51,331.93 L666.82,333.82 L666.13,335.72 L665.43,337.61 L664.72,339.52 L664.00,341.42 L663.27,343.32 L662.52,345.21 L661.76,347.10 L660.97,348.97 L660.16,350.83 L659.33,352.68 L658.47,354.51 L657.58,356.32 L656.65,358.10 L655.69,359.86 L654.69,361.58 L653.66,363.28 L652.58,364.94 L651.45,366.56 L650.28,368.15 L649.06,369.69 L647.79,371.18 L646.46,372.63 L645.07,374.01 L643.63,375.32 L642.12,376.54 L640.55,377.65 L638.92,378.63 L637.21,379.47 L635.44,380.16 L633.59,380.67 L631.67,381.01 L629.69,381.19 L627.66,381.24 L625.59,381.17 L623.50,381.01 L621.39,380.76 L621.90,380.76 Z" fill="rgb(0,170,0)" fill-opacity="0.3"/>
 <g clip-path="url(#pc)" fill="none" stroke="rgb(0,170,0)" stroke-width="3.0" stroke-linejoin="round">
  <path d="M621.40,312.70 L622.04,310.81 L622.68,308.92 L623.32,307.03 L623.96,305.15 L624.61,303.26 L625.25,301.37 L625.89,299.48 L626.53,297.59 L627.18,295.70 L627.82,293.81 L628.46,291.92 L629.10,290.03 L629.75,288.14 L630.39,286.26 L631.03,284.37 L631.67,282.48 L632.31,280.59 L632.96,278.70 L633.60,276.81 L634.24,274.92 L634.88,273.03 L635.52,271.14 L636.16,269.25 L636.80,267.36 L637.44,265.46 L638.07,263.57 L638.71,261.68 L639.35,259.79 L639.98,257.90 L640.62,256.01 L641.25,254.11 L641.89,252.22 L642.52,250.33 L643.15,248.43 L643.78,246.54 L644.41,244.65 L645.04,242.75 L645.67,240.86 L646.30,238.96 L646.92,237.07 L647.55,235.17 L648.17,233.28 L648.79,231.38 L649.41,229.48 L650.03,227.58 L650.65,225.69 L651.27,223.79 L651.88,221.89 L652.49,219.99 L653.11,218.09 L653.72,216.19 L654.32,214.29 L654.93,212.39 L655.54,210.49 L656.14,208.58 L656.74,206.68 L657.34,204.78 L657.94,202.87 L658.54,200.97 L659.13,199.06 L659.72,197.16 L660.31,195.25 L660.90,193.34 L661.48,191.44 L662.07,189.53 L662.65,187.62 L663.23,185.71 L663.81,183.80 L664.38,181.89 L664.95,179.98 L665.52,178.06 L666.09,176.15 L666.65,174.24 L667.22,172.32 L667.78,170.41 L668.33,168.49 L668.89,166.57 L669.44,164.65 L669.99,162.74 L670.53,160.82 L671.08,158.90 L671.62,156.98 L672.16,155.05 L672.69,153.13 L673.22,151.21 L673.75,149.28 L674.28,147.36 L674.80,145.43 L675.32,143.50 L675.83,141.57 L676.35,139.65 L676.86,137.72 L677.36,135.78 L677.87,133.85 L678.37,131.92 L678.86,129.99 L679.36,128.05 L679.84,126.11 L680.33,124.18 L680.81,122.24 L681.29,120.30 L681.77,118.36 L682.24,116.42 L682.71,114.48 L683.17,112.53 L683.63,110.59 L684.08,108.64 L684.54,106.69 L684.98,104.75 L685.43,102.80 L685.87,100.85 L686.31,98.90 L686.74,96.94 L687.17,94.99"/>
  <path d="M621.39,380.76 L623.50,381.01 L625.59,381.17 L627.66,381.24 L629.69,381.19 L631.67,381.01 L633.59,380.67 L635.44,380.16 L637.21,379.47 L638.92,378.63 L640.55,377.65 L642.12,376.54 L643.63,375.32 L645.07,374.01 L646.46,372.63 L647.79,371.18 L649.06,369.69 L650.28,368.15 L651.45,366.56 L652.58,364.94 L653.66,363.28 L654.69,361.58 L655.69,359.86 L656.65,358.10 L657.58,356.32 L658.47,354.51 L659.33,352.68 L660.16,350.83 L660.97,348.97 L661.76,347.10 L662.52,345.21 L663.27,343.32 L664.00,341.42 L664.72,339.52 L665.43,337.61 L666.13,335.72 L666.82,333.82 L667.51,331.93 L668.18,330.03 L668.85,328.14 L669.51,326.25 L670.16,324.36 L670.80,322.47 L671.44,320.59 L672.07,318.70 L672.69,316.81 L673.31,314.92 L673.92,313.04 L674.52,311.15 L675.11,309.26 L675.70,307.37 L676.29,305.47 L676.87,303.58 L677.44,301.69 L678.01,299.79 L678.57,297.89 L679.13,295.99 L679.68,294.08 L680.23,292.17 L680.77,290.26 L681.31,288.35 L681.84,286.43 L682.37,284.51 L682.90,282.58 L683.42,280.65 L683.94,278.71 L684.46,276.77 L684.97,274.83 L685.48,272.88 L685.98,270.92 L686.49,268.96 L686.99,266.99"/>
  <path d="M620.43,339.75 L622.17,338.73 L623.84,337.64 L625.44,336.48 L626.97,335.26 L628.45,333.98 L629.86,332.64 L631.21,331.25 L632.52,329.81 L633.77,328.31 L634.97,326.78 L636.12,325.20 L637.24,323.59 L638.31,321.94 L639.35,320.26 L640.35,318.55 L641.32,316.82 L642.26,315.07 L643.18,313.30 L644.07,311.51 L644.95,309.71 L645.81,307.90 L646.65,306.09 L647.47,304.26 L648.28,302.43 L649.07,300.59 L649.85,298.74 L650.62,296.89 L651.37,295.03 L652.12,293.17 L652.85,291.30 L653.57,289.43 L654.28,287.56 L654.98,285.68 L655.67,283.79 L656.35,281.91 L657.03,280.02 L657.70,278.13 L658.36,276.24 L659.02,274.35 L659.67,272.46 L660.32,270.57 L660.96,268.68 L661.60,266.79 L662.23,264.89 L662.86,263.00 L663.49,261.11 L664.11,259.21 L664.72,257.32 L665.34,255.43 L665.95,253.53 L666.55,251.64 L667.16,249.74 L667.76,247.84 L668.35,245.95 L668.94,244.05 L669.53,242.15 L670.12,240.25 L670.71,238.36 L671.29,236.46 L671.87,234.56 L672.44,232.66 L673.02,230.75 L673.59,228.85 L674.16,226.95 L674.73,225.05 L675.29,223.14 L675.86,221.24 L676.42,219.34 L676.98,217.43 L677.54,215.52 L678.10,213.62 L678.66,211.71 L679.22,209.80 L679.77,207.89 L680.33,205.98 L680.88,204.07 L681.44,202.16 L681.99,200.24 L682.54,198.33 L683.10,196.42 L683.65,194.50 L684.20,192.58 L684.75,190.67 L685.31,188.75 L685.86,186.83 L686.42,184.91 L686.97,182.99" stroke-dasharray="5 4.227" stroke-dashoffset="0.000"/>
 </g>
 <path clip-path="url(#pc)" d="M410.90,-5.00 L410.90,118.82 L410.02,118.82 L411.29,118.52 L412.16,119.40 L412.82,120.77 L413.38,122.29 L413.86,123.94 L414.25,125.71 L414.59,127.58 L414.86,129.53 L415.10,131.54 L415.30,133.61 L415.49,135.70 L415.67,137.81 L415.84,139.92 L416.03,142.01 L416.23,144.09 L416.44,146.16 L416.65,148.22 L416.88,150.26 L417.11,152.30 L417.35,154.32 L417.59,156.34 L417.84,158.35 L418.09,160.35 L418.35,162.34 L418.61,164.33 L418.88,166.31 L419.15,168.28 L419.42,170.25 L419.69,172.22 L419.96,174.19 L420.23,176.15 L420.50,178.11 L420.77,180.07 L421.03,182.03 L421.30,183.99 L421.56,185.95 L421.82,187.91 L422.07,189.88 L422.32,191.85 L422.57,193.82 L422.81,195.79 L423.05,197.76 L423.28,199.73 L423.52,201.71 L423.75,203.69 L423.98,205.67 L424.21,207.65 L424.43,209.63 L424.65,211.61 L424.88,213.59 L425.10,215.58 L425.31,217.56 L425.53,219.55 L425.75,221.54 L425.97,223.53 L426.18,225.52 L426.40,227.51 L426.61,229.50 L426.83,231.49 L427.05,233.48 L427.26,235.47 L427.48,237.47 L427.70,239.46 L427.92,241.45 L428.14,243.44 L428.36,245.44 L428.58,247.43 L428.81,249.42 L429.04,251.42 L429.27,253.41 L429.50,255.40 L429.73,257.40 L429.97,259.39 L430.21,261.38 L430.46,263.37 L430.70,265.36 L430.95,267.35 L431.21,269.34 L431.47,271.32 L431.73,273.31 L432.00,275.30 L432.27,277.28 L432.55,279.27 L432.83,281.25 L433.11,283.23 L433.41,285.21 L433.70,287.19 L434.00,289.17 L434.31,291.14 L434.62,293.12 L434.94,295.09 L435.26,297.07 L435.58,299.04 L435.91,301.01 L436.25,302.98 L436.59,304.95 L436.94,306.92 L437.29,308.88 L437.64,310.85 L438.00,312.81 L438.37,314.77 L438.74,316.74 L439.12,318.70 L439.50,320.66 L439.88,322.62 L440.27,324.57 L440.67,326.53 L441.07,328.48 L441.47,330.44 L441.88,332.39 L442.30,334.34 L442.72,336.29 L443.15,338.24 L443.58,340.19 L444.01,342.14 L444.45,344.09 L444.90,346.03 L445.35,347.98 L445.80,349.92 L446.26,351.86 L446.73,353.81 L447.20,355.75 L447.67,357.69 L448.15,359.62 L448.64,361.56 L449.13,363.50 L449.62,365.43 L450.12,367.37 L450.63,369.30 L451.13,371.23 L451.65,373.16 L452.17,375.09 L452.69,377.02 L453.22,378.95 L453.76,380.88 L454.30,382.80 L454.84,384.73 L455.39,386.65 L455.95,388.58 L456.51,390.50 L457.07,392.42 L457.64,394.34 L458.22,396.26 L458.80,398.17 L459.39,400.09 L459.99,402.00 L460.60,403.91 L461.21,405.82 L461.83,407.72 L462.46,409.62 L463.10,411.52 L463.75,413.41 L464.40,415.30 L465.07,417.19 L465.75,419.07 L466.44,420.94 L467.14,422.82 L467.85,424.69 L468.57,426.55 L469.30,428.41 L470.05,430.26 L470.81,432.11 L471.58,433.95 L472.36,435.78 L473.16,437.61 L473.97,439.44 L474.80,441.25 L475.64,443.06 L476.50,444.86 L477.37,446.66 L478.25,448.45 L479.16,450.23 L480.07,452.00 L481.01,453.77 L481.96,455.52 L482.93,457.27 L483.92,459.01 L484.92,460.74 L485.95,462.46 L486.99,464.17 L488.04,465.88 L489.11,467.57 L490.20,469.25 L491.31,470.92 L492.43,472.58 L493.56,474.23 L494.72,475.87 L495.89,477.50 L497.07,479.12 L498.27,480.72 L499.49,482.32 L500.72,483.90 L501.96,485.46 L503.22,487.02 L504.50,488.56 L505.79,490.09 L507.09,491.60 L508.41,493.10 L509.75,494.59 L511.09,496.06 L512.45,497.52 L513.83,498.96 L515.22,500.39 L516.62,501.80 L518.04,503.20 L519.46,504.58 L520.91,505.95 L522.36,507.30 L523.83,508.63 L525.31,509.95 L526.80,511.25 L528.30,512.53 L529.82,513.81 L531.35,515.06 L532.89,516.30 L534.44,517.53 L536.00,518.75 L537.58,519.95 L539.16,521.13 L540.76,522.30 L542.36,523.46 L543.98,524.61 L545.61,525.75 L547.24,526.87 L548.89,527.98 L550.55,529.07 L552.21,530.16 L553.89,531.24 L555.57,532.30 L557.26,533.35 L558.96,534.39 L560.67,535.43 L562.39,536.45 L564.12,537.46 L565.85,538.46 L567.60,539.45 L569.35,540.43 L571.10,541.41 L572.87,542.37 L574.64,543.33 L576.42,544.28 L578.20,545.22 L579.99,546.16 L581.78,547.09 L583.58,548.02 L585.38,548.94 L587.18,549.86 L588.99,550.77 L590.80,551.68 L592.60,552.60 L594.41,553.51 L596.22,554.42 L598.03,555.33 L599.84,556.24 L601.64,557.15 L603.44,558.07 L605.24,558.99 L607.04,559.91 L608.83,560.84 L610.62,561.78 L612.40,562.71 L614.18,563.66 L615.95,564.61 L617.71,565.57 L619.47,566.54 L621.22,567.52 L622.96,568.51 L624.69,569.50 L626.41,570.51 L628.12,571.53 L629.82,572.57 L631.50,573.61 L633.18,574.67 L634.84,575.75 L636.49,576.84 L638.13,577.94 L639.75,579.07 L641.36,580.20 L642.95,581.36 L644.53,582.54 L646.08,583.73 L647.63,584.94 L649.15,586.18 L650.66,587.43 L652.14,588.71 L653.61,590.01 L655.06,591.33 L656.49,592.68 L657.89,594.05 L659.28,595.45 L660.64,596.87 L661.98,598.32 L663.30,599.79 L664.59,601.29 L665.85,602.83 L667.10,604.39 L668.31,605.98 L669.50,607.60 L670.67,609.25 L671.80,610.93 L672.91,612.65 L673.99,614.39 L675.04,616.18 L676.06,617.99 L678.06,640.00 L700.00,640.00 L700.00,335.21 L688.03,335.21 L686.18,334.46 L684.33,333.71 L682.48,332.94 L680.64,332.16 L678.81,331.37 L676.98,330.57 L675.16,329.76 L673.34,328.93 L671.53,328.10 L669.72,327.26 L667.92,326.41 L666.12,325.54 L664.33,324.66 L662.54,323.78 L660.76,322.88 L658.99,321.97 L657.22,321.05 L655.45,320.12 L653.70,319.18 L651.95,318.23 L650.20,317.26 L648.47,316.28 L646.73,315.30 L645.01,314.30 L643.29,313.29 L641.58,312.27 L639.87,311.23 L638.18,310.19 L636.49,309.13 L634.80,308.06 L633.12,306.98 L631.45,305.89 L629.79,304.78 L628.14,303.67 L626.49,302.54 L624.85,301.40 L623.22,300.25 L621.59,299.08 L619.97,297.90 L618.36,296.72 L616.76,295.52 L615.17,294.31 L613.58,293.08 L612.01,291.85 L610.44,290.60 L608.88,289.35 L607.32,288.08 L605.78,286.80 L604.24,285.51 L602.72,284.21 L601.20,282.90 L599.69,281.58 L598.18,280.25 L596.69,278.91 L595.21,277.56 L593.73,276.20 L592.27,274.83 L590.81,273.45 L589.36,272.06 L587.93,270.66 L586.50,269.25 L585.08,267.84 L583.67,266.41 L582.27,264.97 L580.88,263.53 L579.49,262.08 L578.12,260.61 L576.76,259.14 L575.41,257.66 L574.07,256.18 L572.74,254.68 L571.41,253.18 L570.10,251.67 L568.80,250.15 L567.51,248.62 L566.23,247.09 L564.96,245.54 L563.70,243.99 L562.45,242.44 L561.21,240.87 L559.99,239.30 L558.77,237.73 L557.56,236.14 L556.37,234.55 L555.18,232.95 L554.01,231.35 L552.84,229.73 L551.69,228.12 L550.54,226.49 L549.41,224.86 L548.28,223.22 L547.17,221.58 L546.06,219.93 L544.97,218.27 L543.88,216.61 L542.80,214.94 L541.74,213.27 L540.68,211.59 L539.63,209.90 L538.60,208.21 L537.57,206.51 L536.55,204.81 L535.54,203.10 L534.54,201.38 L533.54,199.66 L532.56,197.94 L531.59,196.21 L530.62,194.47 L529.66,192.73 L528.72,190.98 L527.78,189.23 L526.85,187.48 L525.92,185.72 L525.01,183.95 L524.10,182.18 L523.21,180.40 L522.32,178.62 L521.43,176.84 L520.56,175.05 L519.70,173.25 L518.84,171.46 L517.99,169.65 L517.15,167.85 L516.31,166.04 L515.49,164.22 L514.67,162.40 L513.86,160.58 L513.05,158.75 L512.26,156.92 L511.47,155.08 L510.69,153.25 L509.91,151.40 L509.14,149.56 L508.38,147.71 L507.63,145.85 L506.88,144.00 L506.14,142.14 L505.41,140.28 L504.68,138.41 L503.96,136.54 L503.25,134.67 L502.54,132.79 L501.84,130.91 L501.15,129.03 L500.46,127.15 L499.78,125.26 L499.10,123.37 L498.43,121.48 L497.77,119.59 L497.11,117.69 L496.46,115.79 L495.82,113.89 L495.17,111.98 L494.54,110.08 L493.91,108.17 L493.29,106.26 L492.67,104.34 L492.06,102.43 L491.45,100.51 L490.85,98.59 L490.25,96.67 L489.66,94.75 L489.07,92.83 L488.49,90.90 L487.91,88.98 L487.34,87.05 L486.77,85.12 L486.21,83.19 L485.65,81.26 L485.10,79.32 L484.55,77.39 L484.00,75.45 L483.46,73.52 L482.93,71.58 L482.40,69.64 L481.87,67.70 L481.34,65.77 L480.82,63.83 L480.31,61.89 L479.80,59.94 L479.29,58.00 L478.78,56.06 L478.28,54.12 L477.79,52.18 L477.29,50.23 L476.80,48.29 L476.32,46.35 L475.83,44.41 L475.35,42.46 L474.87,40.52 L474.40,38.58 L473.93,36.64 L473.46,34.69 L473.00,32.75 L472.53,30.81 L472.07,28.87 L471.62,26.93 L471.16,24.99 L470.71,23.06 L470.26,21.12 L469.81,19.18 L469.37,17.25 L468.93,15.31 L468.49,13.38 L468.05,11.45 L467.61,9.52 L467.18,7.59 L466.75,5.66 L466.32,3.73 L465.89,1.80 L465.46,-0.12 L465.04,-2.04 L464.62,-3.96 L464.62,-5.00 Z" fill="rgb(128,0,128)" fill-opacity="0.2"/>
 <g clip-path="url(#lc)" fill="none" stroke="rgb(128,0,128)" stroke-width="3.0" stroke-linejoin="round">
  <path d="M410.02,118.82 L411.29,118.52 L412.16,119.40 L412.82,120.77 L413.38,122.29 L413.86,123.94 L414.25,125.71 L414.59,127.58 L414.86,129.53 L415.10,131.54 L415.30,133.61 L415.49,135.70 L415.67,137.81 L415.84,139.92 L416.03,142.01 L416.23,144.09 L416.44,146.16 L416.65,148.22 L416.88,150.26 L417.11,152.30 L417.35,154.32 L417.59,156.34 L417.84,158.35 L418.09,160.35 L418.35,162.34 L418.61,164.33 L418.88,166.31 L419.15,168.28 L419.42,170.25 L419.69,172.22 L419.96,174.19 L420.23,176.15 L420.50,178.11 L420.77,180.07 L421.03,182.03 L421.30,183.99 L421.56,185.95 L421.82,187.91 L422.07,189.88 L422.32,191.85 L422.57,193.82 L422.81,195.79 L423.05,197.76 L423.28,199.73 L423.52,201.71 L423.75,203.69 L423.98,205.67 L424.21,207.65 L424.43,209.63 L424.65,211.61 L424.88,213.59 L425.10,215.58 L425.31,217.56 L425.53,219.55 L425.75,221.54 L425.97,223.53 L426.18,225.52 L426.40,227.51 L426.61,229.50 L426.83,231.49 L427.05,233.48 L427.26,235.47 L427.48,237.47 L427.70,239.46 L427.92,241.45 L428.14,243.44 L428.36,245.44 L428.58,247.43 L428.81,249.42 L429.04,251.42 L429.27,253.41 L429.50,255.40 L429.73,257.40 L429.97,259.39 L430.21,261.38 L430.46,263.37 L430.70,265.36 L430.95,267.35 L431.21,269.34 L431.47,271.32 L431.73,273.31 L432.00,275.30 L432.27,277.28 L432.55,279.27 L432.83,281.25 L433.11,283.23 L433.41,285.21 L433.70,287.19 L434.00,289.17 L434.31,291.14 L434.62,293.12 L434.94,295.09 L435.26,297.07 L435.58,299.04 L435.91,301.01 L436.25,302.98 L436.59,304.95 L436.94,306.92 L437.29,308.88 L437.64,310.85 L438.00,312.81 L438.37,314.77 L438.74,316.74 L439.12,318.70 L439.50,320.66 L439.88,322.62 L440.27,324.57 L440.67,326.53 L441.07,328.48 L441.47,330.44 L441.88,332.39 L442.30,334.34 L442.72,336.29 L443.15,338.24 L443.58,340.19 L444.01,342.14 L444.45,344.09 L444.90,346.03 L445.35,347.98 L445.80,349.92 L446.26,351.86 L446.73,353.81 L447.20,355.75 L447.67,357.69 L448.15,359.62 L448.64,361.56 L449.13,363.50 L449.62,365.43 L450.12,367.37 L450.63,369.30 L451.13,371.23 L451.65,373.16 L452.17,375.09 L452.69,377.02 L453.22,378.95 L453.76,380.88 L454.30,382.80 L454.84,384.73 L455.39,386.65 L455.95,388.58 L456.51,390.50 L457.07,392.42 L457.64,394.34 L458.22,396.26 L458.80,398.17 L459.39,400.09 L459.99,402.00 L460.60,403.91 L461.21,405.82 L461.83,407.72 L462.46,409.62 L463.10,411.52 L463.75,413.41 L464.40,415.30 L465.07,417.19 L465.75,419.07 L466.44,420.94 L467.14,422.82 L467.85,424.69 L468.57,426.55 L469.30,428.41 L470.05,430.26 L470.81,432.11 L471.58,433.95 L472.36,435.78 L473.16,437.61 L473.97,439.44 L474.80,441.25 L475.64,443.06 L476.50,444.86 L477.37,446.66 L478.25,448.45 L479.16,450.23 L480.07,452.00 L481.01,453.77 L481.96,455.52 L482.93,457.27 L483.92,459.01 L484.92,460.74 L485.95,462.46 L486.99,464.17 L488.04,465.88 L489.11,467.57 L490.20,469.25 L491.31,470.92 L492.43,472.58 L493.56,474.23 L494.72,475.87 L495.89,477.50 L497.07,479.12 L498.27,480.72 L499.49,482.32 L500.72,483.90 L501.96,485.46 L503.22,487.02 L504.50,488.56 L505.79,490.09 L507.09,491.60 L508.41,493.10 L509.75,494.59 L511.09,496.06 L512.45,497.52 L513.83,498.96 L515.22,500.39 L516.62,501.80 L518.04,503.20 L519.46,504.58 L520.91,505.95 L522.36,507.30 L523.83,508.63 L525.31,509.95 L526.80,511.25 L528.30,512.53 L529.82,513.81 L531.35,515.06 L532.89,516.30 L534.44,517.53 L536.00,518.75 L537.58,519.95 L539.16,521.13 L540.76,522.30 L542.36,523.46 L543.98,524.61 L545.61,525.75 L547.24,526.87 L548.89,527.98 L550.55,529.07 L552.21,530.16 L553.89,531.24 L555.57,532.30 L557.26,533.35 L558.96,534.39 L560.67,535.43 L562.39,536.45 L564.12,537.46 L565.85,538.46 L567.60,539.45 L569.35,540.43 L571.10,541.41 L572.87,542.37 L574.64,543.33 L576.42,544.28 L578.20,545.22 L579.99,546.16 L581.78,547.09 L583.58,548.02 L585.38,548.94 L587.18,549.86 L588.99,550.77 L590.80,551.68 L592.60,552.60 L594.41,553.51 L596.22,554.42 L598.03,555.33 L599.84,556.24 L601.64,557.15 L603.44,558.07 L605.24,558.99 L607.04,559.91 L608.83,560.84 L610.62,561.78 L612.40,562.71 L614.18,563.66 L615.95,564.61 L617.71,565.57 L619.47,566.54 L621.22,567.52 L622.96,568.51 L624.69,569.50 L626.41,570.51 L628.12,571.53 L629.82,572.57 L631.50,573.61 L633.18,574.67 L634.84,575.75 L636.49,576.84 L638.13,577.94 L639.75,579.07 L641.36,580.20 L642.95,581.36 L644.53,582.54 L646.08,583.73 L647.63,584.94 L649.15,586.18 L650.66,587.43 L652.14,588.71 L653.61,590.01 L655.06,591.33 L656.49,592.68 L657.89,594.05 L659.28,595.45 L660.64,596.87 L661.98,598.32 L663.30,599.79 L664.59,601.29 L665.85,602.83 L667.10,604.39 L668.31,605.98 L669.50,607.60 L670.67,609.25 L671.80,610.93 L672.91,612.65 L673.99,614.39 L675.04,616.18 L676.06,617.99" stroke-linecap="round"/>
  <path d="M464.62,-3.96 L465.04,-2.04 L465.46,-0.12 L465.89,1.80 L466.32,3.73 L466.75,5.66 L467.18,7.59 L467.61,9.52 L468.05,11.45 L468.49,13.38 L468.93,15.31 L469.37,17.25 L469.81,19.18 L470.26,21.12 L470.71,23.06 L471.16,24.99 L471.62,26.93 L472.07,28.87 L472.53,30.81 L473.00,32.75 L473.46,34.69 L473.93,36.64 L474.40,38.58 L474.87,40.52 L475.35,42.46 L475.83,44.41 L476.32,46.35 L476.80,48.29 L477.29,50.23 L477.79,52.18 L478.28,54.12 L478.78,56.06 L479.29,58.00 L479.80,59.94 L480.31,61.89 L480.82,63.83 L481.34,65.77 L481.87,67.70 L482.40,69.64 L482.93,71.58 L483.46,73.52 L484.00,75.45 L484.55,77.39 L485.10,79.32 L485.65,81.26 L486.21,83.19 L486.77,85.12 L487.34,87.05 L487.91,88.98 L488.49,90.90 L489.07,92.83 L489.66,94.75 L490.25,96.67 L490.85,98.59 L491.45,100.51 L492.06,102.43 L492.67,104.34 L493.29,106.26 L493.91,108.17 L494.54,110.08 L495.17,111.98 L495.82,113.89 L496.46,115.79 L497.11,117.69 L497.77,119.59 L498.43,121.48 L499.10,123.37 L499.78,125.26 L500.46,127.15 L501.15,129.03 L501.84,130.91 L502.54,132.79 L503.25,134.67 L503.96,136.54 L504.68,138.41 L505.41,140.28 L506.14,142.14 L506.88,144.00 L507.63,145.85 L508.38,147.71 L509.14,149.56 L509.91,151.40 L510.69,153.25 L511.47,155.08 L512.26,156.92 L513.05,158.75 L513.86,160.58 L514.67,162.40 L515.49,164.22 L516.31,166.04 L517.15,167.85 L517.99,169.65 L518.84,171.46 L519.70,173.25 L520.56,175.05 L521.43,176.84 L522.32,178.62 L523.21,180.40 L524.10,182.18 L525.01,183.95 L525.92,185.72 L526.85,187.48 L527.78,189.23 L528.72,190.98 L529.66,192.73 L530.62,194.47 L531.59,196.21 L532.56,197.94 L533.54,199.66 L534.54,201.38 L535.54,203.10 L536.55,204.81 L537.57,206.51 L538.60,208.21 L539.63,209.90 L540.68,211.59 L541.74,213.27 L542.80,214.94 L543.88,216.61 L544.97,218.27 L546.06,219.93 L547.17,221.58 L548.28,223.22 L549.41,224.86 L550.54,226.49 L551.69,228.12 L552.84,229.73 L554.01,231.35 L555.18,232.95 L556.37,234.55 L557.56,236.14 L558.77,237.73 L559.99,239.30 L561.21,240.87 L562.45,242.44 L563.70,243.99 L564.96,245.54 L566.23,247.09 L567.51,248.62 L568.80,250.15 L570.10,251.67 L571.41,253.18 L572.74,254.68 L574.07,256.18 L575.41,257.66 L576.76,259.14 L578.12,260.61 L579.49,262.08 L580.88,263.53 L582.27,264.97 L583.67,266.41 L585.08,267.84 L586.50,269.25 L587.93,270.66 L589.36,272.06 L590.81,273.45 L592.27,274.83 L593.73,276.20 L595.21,277.56 L596.69,278.91 L598.18,280.25 L599.69,281.58 L601.20,282.90 L602.72,284.21 L604.24,285.51 L605.78,286.80 L607.32,288.08 L608.88,289.35 L610.44,290.60 L612.01,291.85 L613.58,293.08 L615.17,294.31 L616.76,295.52 L618.36,296.72 L619.97,297.90 L621.59,299.08 L623.22,300.25 L624.85,301.40 L626.49,302.54 L628.14,303.67 L629.79,304.78 L631.45,305.89 L633.12,306.98 L634.80,308.06 L636.49,309.13 L638.18,310.19 L639.87,311.23 L641.58,312.27 L643.29,313.29 L645.01,314.30 L646.73,315.30 L648.47,316.28 L650.20,317.26 L651.95,318.23 L653.70,319.18 L655.45,320.12 L657.22,321.05 L658.99,321.97 L660.76,322.88 L662.54,323.78 L664.33,324.66 L666.12,325.54 L667.92,326.41 L669.72,327.26 L671.53,328.10 L673.34,328.93 L675.16,329.76 L676.98,330.57 L678.81,331.37 L680.64,332.16 L682.48,332.94 L684.33,333.71 L686.18,334.46 L688.03,335.21"/>
  <path d="M430.07,10.69 L430.27,12.69 L430.48,14.70 L430.68,16.71 L430.89,18.71 L431.11,20.71 L431.32,22.71 L431.54,24.71 L431.76,26.71 L431.98,28.71 L432.21,30.70 L432.44,32.69 L432.67,34.69 L432.90,36.68 L433.13,38.67 L433.37,40.66 L433.61,42.65 L433.85,44.63 L434.10,46.62 L434.34,48.60 L434.59,50.59 L434.85,52.57 L435.10,54.55 L435.36,56.53 L435.62,58.51 L435.88,60.49 L436.15,62.47 L436.41,64.44 L436.69,66.42 L436.96,68.39 L437.24,70.36 L437.51,72.34 L437.80,74.31 L438.08,76.28 L438.37,78.25 L438.66,80.22 L438.95,82.19 L439.24,84.15 L439.54,86.12 L439.84,88.08 L440.15,90.05 L440.45,92.01 L440.76,93.98 L441.08,95.94 L441.39,97.90 L441.71,99.86 L442.03,101.82 L442.36,103.78 L442.68,105.74 L443.01,107.70 L443.35,109.66 L443.68,111.62 L444.02,113.57 L444.36,115.53 L444.71,117.49 L445.05,119.44 L445.41,121.40 L445.76,123.35 L446.12,125.31 L446.48,127.26 L446.84,129.21 L447.21,131.17 L447.58,133.12 L447.95,135.07 L448.33,137.02 L448.71,138.97 L449.09,140.93 L449.47,142.88 L449.86,144.83 L450.25,146.78 L450.65,148.73 L451.05,150.68 L451.45,152.63 L451.86,154.58 L452.26,156.53 L452.68,158.48 L453.09,160.43 L453.51,162.38 L453.93,164.32 L454.36,166.27 L454.79,168.22 L455.22,170.17 L455.65,172.12 L456.09,174.07 L456.54,176.02 L456.98,177.97 L457.43,179.92 L457.88,181.87 L458.34,183.81 L458.80,185.76 L459.26,187.71 L459.73,189.66 L460.20,191.61 L460.68,193.56 L461.16,195.51 L461.64,197.46 L462.13,199.41 L462.62,201.35 L463.11,203.30 L463.61,205.25 L464.12,207.19 L464.63,209.14 L465.14,211.08 L465.66,213.02 L466.19,214.96 L466.72,216.90 L467.25,218.84 L467.79,220.78 L468.34,222.71 L468.89,224.65 L469.44,226.58 L470.01,228.51 L470.58,230.44 L471.15,232.36 L471.73,234.28 L472.32,236.21 L472.91,238.13 L473.51,240.04 L474.12,241.96 L474.73,243.87 L475.35,245.78 L475.98,247.68 L476.61,249.59 L477.25,251.49 L477.90,253.39 L478.55,255.28 L479.22,257.17 L479.88,259.06 L480.56,260.94 L481.25,262.82 L481.94,264.70 L482.64,266.57 L483.35,268.44 L484.07,270.31 L484.79,272.17 L485.52,274.03 L486.27,275.88 L487.02,277.73 L487.78,279.58 L488.54,281.42 L489.32,283.26 L490.11,285.09 L490.90,286.91 L491.70,288.74 L492.52,290.55 L493.34,292.36 L494.17,294.17 L495.01,295.97 L495.86,297.77 L496.72,299.56 L497.60,301.35 L498.48,303.13 L499.37,304.90 L500.27,306.67 L501.18,308.43 L502.10,310.19 L503.03,311.94 L503.98,313.69 L504.93,315.43 L505.90,317.16 L506.87,318.88 L507.86,320.60 L508.86,322.32 L509.87,324.02 L510.89,325.72 L511.92,327.42 L512.96,329.10 L514.02,330.78 L515.09,332.45 L516.17,334.12 L517.26,335.77 L518.36,337.42 L519.47,339.07 L520.60,340.70 L521.73,342.33 L522.88,343.95 L524.04,345.56 L525.21,347.17 L526.40,348.77 L527.59,350.36 L528.79,351.94 L530.01,353.52 L531.23,355.08 L532.47,356.64 L533.71,358.20 L534.97,359.74 L536.24,361.28 L537.52,362.80 L538.81,364.32 L540.10,365.84 L541.41,367.34 L542.73,368.84 L544.06,370.32 L545.40,371.80 L546.75,373.27 L548.10,374.74 L549.47,376.19 L550.85,377.64 L552.24,379.07 L553.63,380.50 L555.04,381.92 L556.45,383.34 L557.88,384.74 L559.31,386.14 L560.75,387.52 L562.20,388.90 L563.66,390.27 L565.13,391.63 L566.61,392.98 L568.09,394.32 L569.59,395.65 L571.09,396.98 L572.60,398.29 L574.12,399.60 L575.65,400.90 L577.18,402.18 L578.73,403.46 L580.28,404.73 L581.84,405.99 L583.41,407.24 L584.98,408.48 L586.56,409.72 L588.16,410.94 L589.75,412.15 L591.36,413.36 L592.97,414.55 L594.59,415.73 L596.22,416.91 L597.85,418.07 L599.49,419.23 L601.14,420.37 L602.80,421.51 L604.46,422.63 L606.13,423.75 L607.80,424.86 L609.48,425.95 L611.16,427.04 L612.85,428.13 L614.54,429.21 L616.24,430.28 L617.94,431.35 L619.63,432.41 L621.33,433.47 L623.03,434.53 L624.73,435.59 L626.43,436.65 L628.13,437.71 L629.82,438.77 L631.51,439.84 L633.20,440.90 L634.88,441.97 L636.56,443.05 L638.23,444.13 L639.90,445.22 L641.56,446.31 L643.21,447.41 L644.85,448.52 L646.49,449.64 L648.11,450.77 L649.72,451.92 L651.33,453.07 L652.92,454.24 L654.50,455.42 L656.07,456.61 L657.62,457.82 L659.16,459.05 L660.69,460.29 L662.19,461.55 L663.69,462.83 L665.16,464.13 L666.62,465.45 L668.06,466.78 L669.49,468.15 L670.89,469.53 L672.27,470.94 L673.64,472.37 L674.98,473.82 L676.30,475.31 L677.59,476.82 L678.87,478.35 L680.12,479.92 L681.34,481.51 L682.54,483.14 L683.72,484.79 L684.86,486.48 L685.98,488.19 L687.08,489.95" stroke-dasharray="5 4.227" stroke-dashoffset="0.452"/>
 </g>
</g>
<!-- ticks -->
<g stroke="#151515" stroke-width="1">
 <line x1="69.1" y1="602.00" x2="76.60" y2="602.00"/>
 <line x1="69.1" y1="582.33" x2="73.80" y2="582.33"/>
 <line x1="69.1" y1="562.66" x2="73.80" y2="562.66"/>
 <line x1="69.1" y1="542.99" x2="73.80" y2="542.99"/>
 <line x1="69.1" y1="523.32" x2="73.80" y2="523.32"/>
 <line x1="69.1" y1="503.65" x2="76.60" y2="503.65"/>
 <line x1="69.1" y1="483.98" x2="73.80" y2="483.98"/>
 <line x1="69.1" y1="464.31" x2="73.80" y2="464.31"/>
 <line x1="69.1" y1="444.64" x2="73.80" y2="444.64"/>
 <line x1="69.1" y1="424.97" x2="73.80" y2="424.97"/>
 <line x1="69.1" y1="405.30" x2="76.60" y2="405.30"/>
 <line x1="69.1" y1="385.63" x2="73.80" y2="385.63"/>
 <line x1="69.1" y1="365.96" x2="73.80" y2="365.96"/>
 <line x1="69.1" y1="346.29" x2="73.80" y2="346.29"/>
 <line x1="69.1" y1="326.62" x2="73.80" y2="326.62"/>
 <line x1="69.1" y1="306.95" x2="76.60" y2="306.95"/>
 <line x1="69.1" y1="287.28" x2="73.80" y2="287.28"/>
 <line x1="69.1" y1="267.61" x2="73.80" y2="267.61"/>
 <line x1="69.1" y1="247.94" x2="73.80" y2="247.94"/>
 <line x1="69.1" y1="228.27" x2="73.80" y2="228.27"/>
 <line x1="69.1" y1="208.60" x2="76.60" y2="208.60"/>
 <line x1="69.1" y1="188.93" x2="73.80" y2="188.93"/>
 <line x1="69.1" y1="169.26" x2="73.80" y2="169.26"/>
 <line x1="69.1" y1="149.59" x2="73.80" y2="149.59"/>
 <line x1="69.1" y1="129.92" x2="73.80" y2="129.92"/>
 <line x1="69.1" y1="110.25" x2="76.60" y2="110.25"/>
 <line x1="69.1" y1="90.58" x2="73.80" y2="90.58"/>
 <line x1="69.1" y1="70.91" x2="73.80" y2="70.91"/>
 <line x1="69.1" y1="51.24" x2="73.80" y2="51.24"/>
 <line x1="69.1" y1="31.57" x2="73.80" y2="31.57"/>
 <line x1="69.1" y1="11.90" x2="76.60" y2="11.90"/>
 <line x1="140.50" y1="614" x2="140.50" y2="606.5"/>
 <line x1="258.50" y1="614" x2="258.50" y2="606.5"/>
 <line x1="376.50" y1="614" x2="376.50" y2="606.5"/>
 <line x1="494.50" y1="614" x2="494.50" y2="606.5"/>
 <line x1="612.50" y1="614" x2="612.50" y2="606.5"/>
</g>
<!-- tick labels -->
<path d="M41.5,396.90 L41.5,410.50 M37.5,401.30 C39.3,400.30 40.6,399.20 41.3,397.30" stroke="#000" stroke-width="1.85" fill="none"/>
<path d="M41.5,298.55 L41.5,312.15 M37.5,302.95 C39.3,301.95 40.6,300.85 41.3,298.95" stroke="#000" stroke-width="1.85" fill="none"/>
<g class="t">
 <text transform="translate(61.4,608.10) scale(0.965,1)" text-anchor="end">0.0</text>
 <text transform="translate(61.4,509.75) scale(0.965,1)" text-anchor="end">0.5</text>
 <text transform="translate(61.4,411.40) scale(0.965,1)" text-anchor="end">.0</text>
 <text transform="translate(61.4,313.05) scale(0.965,1)" text-anchor="end">.5</text>
 <text transform="translate(61.4,214.70) scale(0.965,1)" text-anchor="end">2.0</text>
 <text transform="translate(61.4,116.35) scale(0.965,1)" text-anchor="end">2.5</text>
 <text transform="translate(61.4,18.00) scale(0.965,1)" text-anchor="end">3.0</text>
 <text transform="translate(140.50,636) scale(0.965,1)" text-anchor="middle">–60</text>
 <text transform="translate(258.50,636) scale(0.965,1)" text-anchor="middle">–30</text>
 <text transform="translate(376.50,636) scale(0.965,1)" text-anchor="middle">0</text>
 <text transform="translate(494.50,636) scale(0.965,1)" text-anchor="middle">30</text>
 <text transform="translate(612.50,636) scale(0.965,1)" text-anchor="middle">60</text>
</g>
<text class="t" style="font-size:22px;font-style:italic" transform="translate(350.5,666) scale(1.22,1)" text-anchor="middle">ϕ</text>
<text class="t" style="font-size:22.3px" x="363" y="666">[deg]</text>
<text class="t" style="font-size:22px" transform="translate(19.6,306.3) rotate(-90) scale(1.15,1)" text-anchor="middle">q</text>
<!-- SM -->
<g stroke="#000" stroke-width="2.7">
 <line x1="376.4" y1="426.8" x2="376.4" y2="509.3"/>
 <line x1="372" y1="426.8" x2="380.8" y2="426.8"/>
 <line x1="372" y1="509.3" x2="380.8" y2="509.3"/>
</g>
<circle cx="376.4" cy="468.3" r="4.3" fill="#000"/>
<text x="385" y="447.6" style="font-family:'Liberation Serif',serif;font-size:27.8px" fill="#000" textLength="37.5" lengthAdjust="spacingAndGlyphs">SM</text>
<!-- Current data -->
<g class="s">
 <text x="252.4" y="181.9" style="font-size:27.8px" textLength="154" lengthAdjust="spacingAndGlyphs">Current data:</text>
 <text transform="translate(257.2,217.3) scale(1.08,1)" style="font-size:27.8px;font-style:italic">S</text>
 <text x="274" y="205" style="font-size:19.5px;font-style:italic">π</text>
 <text transform="translate(285.2,199.7) scale(1.42,1)" style="font-size:12px">0</text>
 <text transform="translate(295,205.1) scale(1.12,1)" style="font-size:19.5px;font-style:italic">K</text>
 <text x="310.5" y="208.4" style="font-size:13.8px">S</text>
 <text x="273.2" y="224.7" style="font-size:19.5px">CP</text>
 <text transform="translate(329.6,219.5) scale(1.36,1)" style="font-size:27.8px">=</text>
 <text x="356" y="217.5" style="font-size:27.8px" textLength="46.5" lengthAdjust="spacingAndGlyphs">0.58</text>
</g>
</svg>
</body></html>
